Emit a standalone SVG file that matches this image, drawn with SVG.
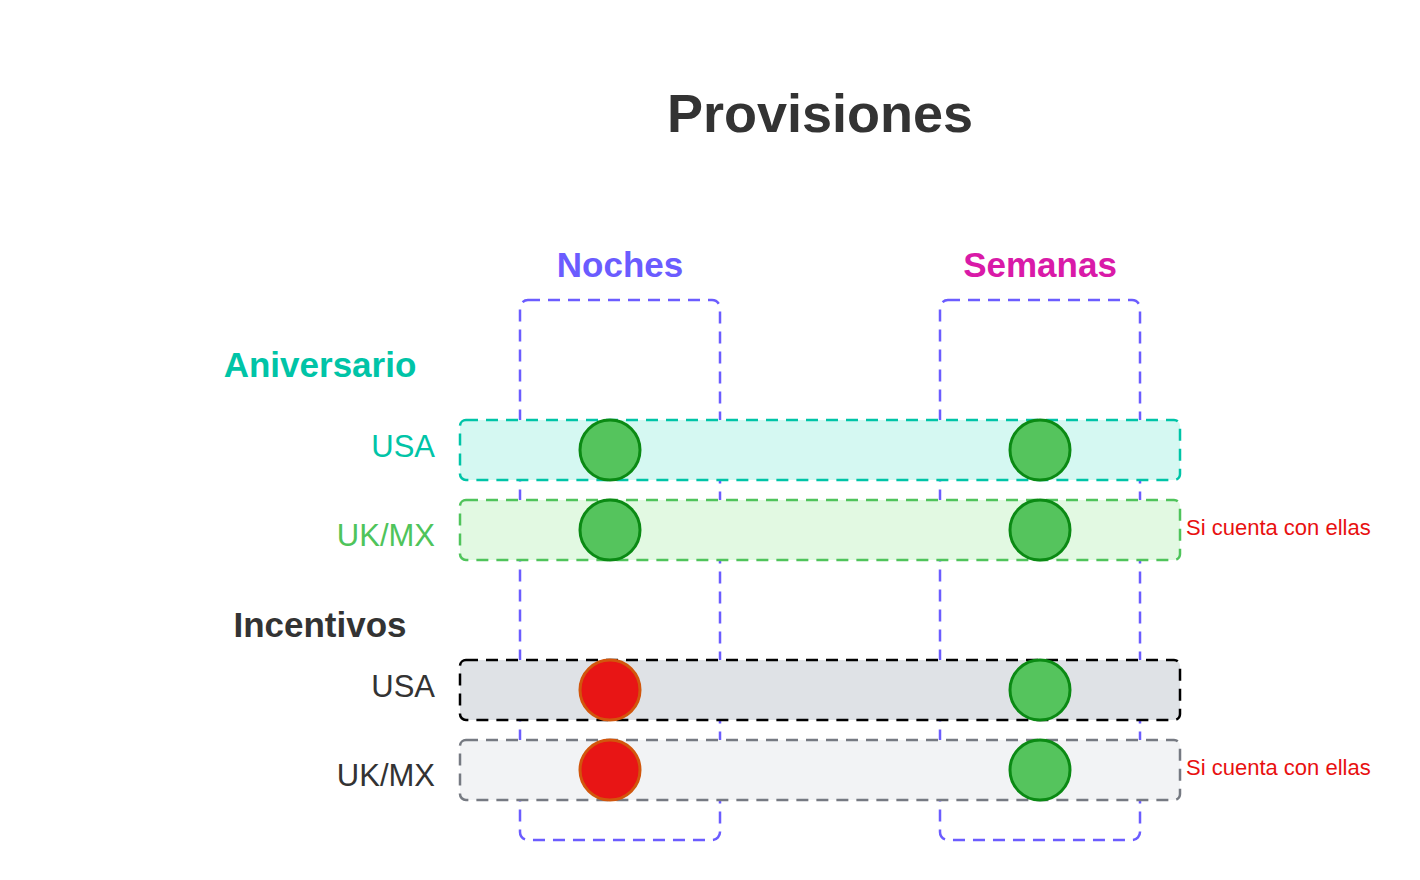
<svg xmlns="http://www.w3.org/2000/svg" width="1420" height="880" viewBox="0 0 1420 880">
<style>
text{font-family:"Liberation Sans",Arial,sans-serif}
.h{font-weight:bold;font-size:35px}
.lbl{font-size:31px;text-anchor:end}
.col{fill:none;stroke:#6b5cff;stroke-width:2.5;stroke-dasharray:12 8}
.row{stroke-width:2.5;stroke-dasharray:12 8}
.ok{fill:#55c45d;stroke:#0b8a14;stroke-width:3}
.no{fill:#e81515;stroke:#d2560c;stroke-width:3}
.note{fill:#e81010;font-size:22px}
</style>
<rect width="1420" height="880" fill="#fff"/>
<text x="820" y="132" text-anchor="middle" font-weight="bold" font-size="54" fill="#333">Provisiones</text>
<g id="col-noches">
<rect class="col" x="520" y="300" width="200" height="540" rx="8"/>
<text class="h" x="620" y="277" text-anchor="middle" fill="#6b5cff">Noches</text>
</g>
<g id="col-semanas">
<rect class="col" x="940" y="300" width="200" height="540" rx="8"/>
<text class="h" x="1040" y="277" text-anchor="middle" fill="#d91aa8">Semanas</text>
</g>
<text id="aniversario" class="h" x="320" y="377" text-anchor="middle" fill="#00c4a7">Aniversario</text>
<text id="incentivos" class="h" x="320" y="637" text-anchor="middle" fill="#333">Incentivos</text>
<g id="row-ani-usa">
<rect class="row" x="460" y="420" width="720" height="60" rx="6" fill="#d5f8f2" stroke="#00c4a7"/>
<text class="lbl" x="435" y="457" fill="#00c4a7">USA</text>
<circle class="ok" cx="610" cy="450" r="30"/>
<circle class="ok" cx="1040" cy="450" r="30"/>
</g>
<g id="row-ani-ukmx">
<rect class="row" x="460" y="500" width="720" height="60" rx="6" fill="#e2f9e2" stroke="#4fc45b"/>
<text class="lbl" x="435" y="546" fill="#4fc45b">UK/MX</text>
<circle class="ok" cx="610" cy="530" r="30"/>
<circle class="ok" cx="1040" cy="530" r="30"/>
<text class="note" x="1186" y="535">Si cuenta con ellas</text>
</g>
<g id="row-inc-usa">
<rect class="row" x="460" y="660" width="720" height="60" rx="6" fill="#dfe2e6" stroke="#000"/>
<text class="lbl" x="435" y="697" fill="#333">USA</text>
<circle class="no" cx="610" cy="690" r="30"/>
<circle class="ok" cx="1040" cy="690" r="30"/>
</g>
<g id="row-inc-ukmx">
<rect class="row" x="460" y="740" width="720" height="60" rx="6" fill="#f2f3f5" stroke="#767a82"/>
<text class="lbl" x="435" y="786" fill="#333">UK/MX</text>
<circle class="no" cx="610" cy="770" r="30"/>
<circle class="ok" cx="1040" cy="770" r="30"/>
<text class="note" x="1186" y="775">Si cuenta con ellas</text>
</g>
<g id="connectors"/>
</svg>
